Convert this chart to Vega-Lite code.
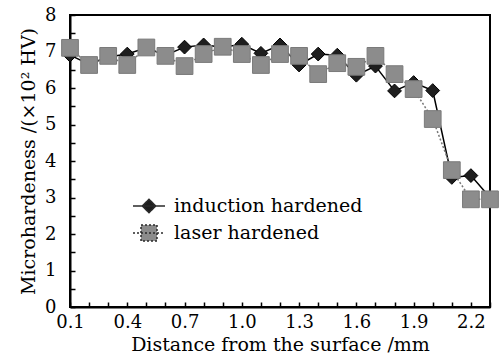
{
  "$schema": "https://vega.github.io/schema/vega-lite/v6.json",
  "width": 420,
  "height": 292,
  "autosize": {"type": "none"},
  "padding": {"left": 70, "top": 15, "right": 10, "bottom": 53},
  "background": "white",
  "config": {
    "view": {"stroke": "black", "strokeWidth": 2},
    "font": "DejaVu Serif",
    "axis": {
      "grid": false,
      "domainColor": "black",
      "domainWidth": 2,
      "tickColor": "black",
      "tickWidth": 1.5,
      "labelFont": "DejaVu Serif",
      "titleFont": "DejaVu Serif",
      "labelFontSize": 18,
      "titleFontSize": 19,
      "labelColor": "black",
      "titleColor": "black",
      "titleFontWeight": "normal",
      "labelOverlap": false,
      "labelFlush": false
    }
  },
  "resolve": {
    "axis": {"x": "independent", "y": "independent"}
  },
  "data": {
    "values": [
      {"x": 0.1, "y": 6.9, "series": "induction hardened"},
      {"x": 0.2, "y": 6.65, "series": "induction hardened"},
      {"x": 0.3, "y": 6.85, "series": "induction hardened"},
      {"x": 0.4, "y": 6.93, "series": "induction hardened"},
      {"x": 0.5, "y": 7.1, "series": "induction hardened"},
      {"x": 0.6, "y": 6.9, "series": "induction hardened"},
      {"x": 0.7, "y": 7.12, "series": "induction hardened"},
      {"x": 0.8, "y": 7.18, "series": "induction hardened"},
      {"x": 0.9, "y": 7.12, "series": "induction hardened"},
      {"x": 1.0, "y": 7.2, "series": "induction hardened"},
      {"x": 1.1, "y": 6.95, "series": "induction hardened"},
      {"x": 1.2, "y": 7.18, "series": "induction hardened"},
      {"x": 1.3, "y": 6.63, "series": "induction hardened"},
      {"x": 1.4, "y": 6.93, "series": "induction hardened"},
      {"x": 1.5, "y": 6.9, "series": "induction hardened"},
      {"x": 1.6, "y": 6.35, "series": "induction hardened"},
      {"x": 1.7, "y": 6.6, "series": "induction hardened"},
      {"x": 1.8, "y": 5.92, "series": "induction hardened"},
      {"x": 1.9, "y": 6.15, "series": "induction hardened"},
      {"x": 2.0, "y": 5.93, "series": "induction hardened"},
      {"x": 2.1, "y": 3.55, "series": "induction hardened"},
      {"x": 2.2, "y": 3.6, "series": "induction hardened"},
      {"x": 2.3, "y": 3.0, "series": "induction hardened"},
      {"x": 0.1, "y": 7.1, "series": "laser hardened"},
      {"x": 0.2, "y": 6.63, "series": "laser hardened"},
      {"x": 0.3, "y": 6.88, "series": "laser hardened"},
      {"x": 0.4, "y": 6.63, "series": "laser hardened"},
      {"x": 0.5, "y": 7.11, "series": "laser hardened"},
      {"x": 0.6, "y": 6.88, "series": "laser hardened"},
      {"x": 0.7, "y": 6.6, "series": "laser hardened"},
      {"x": 0.8, "y": 6.93, "series": "laser hardened"},
      {"x": 0.9, "y": 7.13, "series": "laser hardened"},
      {"x": 1.0, "y": 6.93, "series": "laser hardened"},
      {"x": 1.1, "y": 6.63, "series": "laser hardened"},
      {"x": 1.2, "y": 6.93, "series": "laser hardened"},
      {"x": 1.3, "y": 6.88, "series": "laser hardened"},
      {"x": 1.4, "y": 6.38, "series": "laser hardened"},
      {"x": 1.5, "y": 6.68, "series": "laser hardened"},
      {"x": 1.6, "y": 6.58, "series": "laser hardened"},
      {"x": 1.7, "y": 6.88, "series": "laser hardened"},
      {"x": 1.8, "y": 6.38, "series": "laser hardened"},
      {"x": 1.9, "y": 5.97, "series": "laser hardened"},
      {"x": 2.0, "y": 5.15, "series": "laser hardened"},
      {"x": 2.1, "y": 3.75, "series": "laser hardened"},
      {"x": 2.2, "y": 2.95, "series": "laser hardened"},
      {"x": 2.3, "y": 2.95, "series": "laser hardened"}
    ]
  },
  "encoding": {
    "x": {"field": "x", "type": "quantitative", "scale": {"domain": [0.1, 2.3], "nice": false, "zero": false}, "axis": null},
    "y": {"field": "y", "type": "quantitative", "scale": {"domain": [0, 8], "nice": false}, "axis": null}
  },
  "layer": [
    {
      "transform": [{"filter": "datum.series == 'induction hardened'"}],
      "mark": {"type": "line", "color": "black", "strokeWidth": 1.5},
      "encoding": {
        "x": {
          "field": "x", "type": "quantitative",
          "scale": {"domain": [0.1, 2.3], "nice": false, "zero": false},
          "axis": {
            "orient": "bottom",
            "title": "Distance from the surface /mm",
            "values": [0.1, 0.4, 0.7, 1.0, 1.3, 1.6, 1.9, 2.2],
            "format": ".1f",
            "ticks": false,
            "labelPadding": 6,
            "titlePadding": 4
          }
        },
        "y": {
          "field": "y", "type": "quantitative",
          "scale": {"domain": [0, 8], "nice": false},
          "axis": {
            "orient": "left",
            "title": "Microhardeness /(×10² HV)",
            "values": [0, 1, 2, 3, 4, 5, 6, 7, 8],
            "format": "d",
            "ticks": false,
            "labelPadding": 14,
            "titlePadding": 6
          }
        }
      }
    },
    {
      "transform": [{"filter": "datum.series == 'laser hardened'"}],
      "mark": {"type": "line", "color": "#777777", "strokeWidth": 1.5, "strokeDash": [2, 2]},
      "encoding": {
        "x": {
          "field": "x", "type": "quantitative",
          "scale": {"domain": [0.1, 2.3], "nice": false, "zero": false},
          "axis": {
            "orient": "bottom",
            "title": null,
            "values": [0.1,0.2,0.3,0.4,0.5,0.6,0.7,0.8,0.9,1.0,1.1,1.2,1.3,1.4,1.5,1.6,1.7,1.8,1.9,2.0,2.1,2.2,2.3],
            "labels": false,
            "domain": false,
            "offset": -5,
            "tickSize": 5
          }
        },
        "y": {
          "field": "y", "type": "quantitative",
          "scale": {"domain": [0, 8], "nice": false},
          "axis": {
            "orient": "left",
            "title": null,
            "values": [0,0.5,1,1.5,2,2.5,3,3.5,4,4.5,5,5.5,6,6.5,7,7.5,8],
            "labels": false,
            "domain": false,
            "offset": -5,
            "tickSize": 5
          }
        }
      }
    },
    {
      "transform": [{"filter": "datum.series == 'induction hardened'"}],
      "mark": {"type": "point", "shape": "diamond", "filled": true, "size": 190, "fill": "#1e1e1e", "stroke": "black", "strokeWidth": 1, "opacity": 1}
    },
    {
      "transform": [{"filter": "datum.series == 'laser hardened'"}],
      "mark": {"type": "point", "shape": "square", "filled": true, "size": 280, "fill": "#8c8c8c", "stroke": "#7a7a7a", "strokeWidth": 1, "opacity": 1}
    },
    {
      "transform": [{"filter": "datum.y < -100"}],
      "mark": {"type": "point", "filled": true, "opacity": 1, "strokeWidth": 1.5},
      "encoding": {
        "color": {
          "field": "series",
          "type": "nominal",
          "scale": {"domain": ["induction hardened", "laser hardened"], "range": ["#1e1e1e", "#8c8c8c"]},
          "legend": {
            "orient": "none",
            "legendX": 62,
            "legendY": 174,
            "padding": 0,
            "title": null,
            "symbolSize": 1024,
            "symbolStrokeWidth": 1.5,
            "symbolStrokeColor": "#2a2a2a",
            "labelFont": "DejaVu Serif",
            "labelFontSize": 19,
            "labelColor": "black",
            "labelOffset": 8,
            "rowPadding": -1,
            "labelLimit": 400,
            "encode": {
              "symbols": {
                "enter": {
                  "stroke": {"scale": "color", "field": "value"},
                  "strokeDash": {"scale": "strokeDash", "field": "value"},
                  "strokeWidth": {"value": 1.5}
                },
                "update": {
                  "stroke": {"scale": "color", "field": "value"},
                  "strokeDash": {"scale": "strokeDash", "field": "value"},
                  "strokeWidth": {"value": 1.5}
                }
              }
            }
          }
        },
        "shape": {
          "field": "series",
          "type": "nominal",
          "scale": {
            "domain": ["induction hardened", "laser hardened"],
            "range": [
              "M-1,0L1,0M0,-0.42L0.42,0L0,0.42L-0.42,0Z",
              "M-1,0L1,0M-0.5,-0.5L0.5,-0.5L0.5,0.5L-0.5,0.5Z"
            ]
          },
          "legend": null
        },
        "strokeDash": {
          "field": "series",
          "type": "nominal",
          "scale": {"domain": ["induction hardened", "laser hardened"], "range": [[1, 0], [2, 2]]},
          "legend": null
        }
      }
    }
  ]
}
